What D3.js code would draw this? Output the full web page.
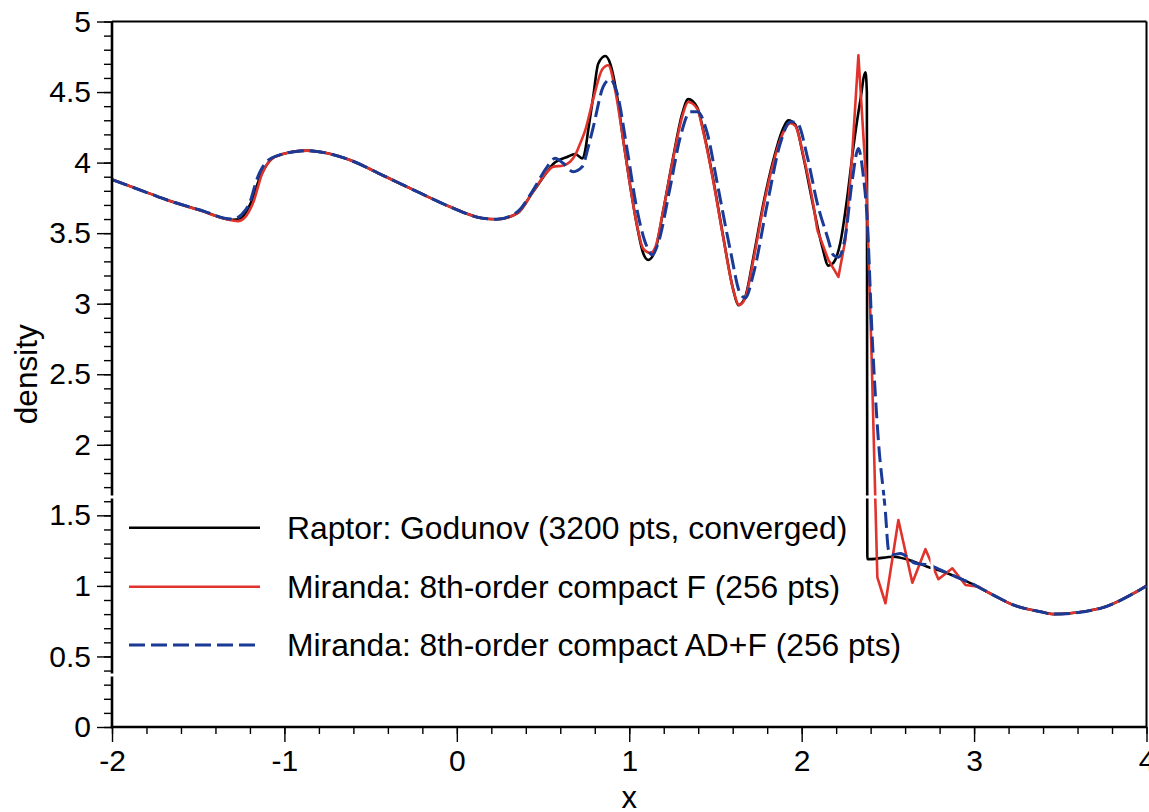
<!DOCTYPE html>
<html>
<head>
<meta charset="utf-8">
<script src="https://cdn.jsdelivr.net/npm/d3@7"></script>
<style>
    body { margin: 0; background: #fff; }
    svg { display: block; font-family: "Liberation Sans", Arial, sans-serif; }
</style>
</head>
<body>
<svg id="chart" width="1149" height="812"></svg>
<script>
// tick labels
var xTicks = [-2, -1, 0, 1, 2, 3, 4];
var yTicks = [0, 0.5, 1, 1.5, 2, 2.5, 3, 3.5, 4, 4.5, 5];

// legend names
var seriesNames = [
    "Raptor: Godunov (3200 pts, converged)",
    "Miranda: 8th-order compact F (256 pts)",
    "Miranda: 8th-order compact AD+F (256 pts)"
];

// values, [x, density]
var raptorGodunov = [
    [-2.0, 3.88], [-1.78, 3.78], [-1.68, 3.735], [-1.49, 3.664], [-1.30, 3.595],
    [-1.26, 3.60], [-1.20, 3.70], [-1.14, 3.90], [-1.08, 4.02], [-1.025, 4.055],
    [-0.87, 4.085], [-0.75, 4.066], [-0.62, 4.018], [-0.43, 3.91], [-0.23, 3.794],
    [-0.04, 3.687], [0.15, 3.605], [0.23, 3.598], [0.35, 3.64], [0.44, 3.79],
    [0.524, 3.935], [0.559, 3.99], [0.64, 4.04], [0.687, 4.061], [0.727, 4.03],
    [0.745, 4.09], [0.762, 4.23], [0.791, 4.467], [0.820, 4.70], [0.861, 4.755],
    [0.890, 4.70], [0.930, 4.467], [0.965, 4.16], [1.006, 3.83], [1.046, 3.546],
    [1.081, 3.357], [1.110, 3.31], [1.151, 3.38], [1.197, 3.66], [1.255, 4.04],
    [1.308, 4.35], [1.342, 4.45], [1.395, 4.39], [1.429, 4.23], [1.487, 3.88],
    [1.545, 3.475], [1.603, 3.10], [1.632, 2.99], [1.673, 3.05], [1.720, 3.33],
    [1.778, 3.71], [1.836, 4.02], [1.888, 4.23], [1.923, 4.30], [1.963, 4.27],
    [2.010, 4.04], [2.068, 3.687], [2.120, 3.40], [2.155, 3.27], [2.184, 3.29],
    [2.224, 3.43], [2.265, 3.76], [2.300, 4.11], [2.340, 4.44], [2.370, 4.64],
    [2.378, 4.5], [2.381, 1.19], [2.398, 1.19], [2.532, 1.207], [2.631, 1.18],
    [2.729, 1.136], [2.845, 1.09], [2.979, 1.02], [3.112, 0.935], [3.228, 0.865],
    [3.385, 0.817], [3.46, 0.80], [3.733, 0.841], [3.925, 0.947], [4.0, 1.0]
];

// F run: smooth part, then the sharp post-shock wiggles
var mirandaF = [
    [-2.0, 3.88], [-1.78, 3.78], [-1.68, 3.735], [-1.49, 3.66], [-1.30, 3.59],
    [-1.27, 3.585], [-1.23, 3.61], [-1.18, 3.72], [-1.13, 3.92], [-1.08, 4.02],
    [-1.025, 4.055], [-0.87, 4.085], [-0.75, 4.066], [-0.62, 4.018], [-0.43, 3.91],
    [-0.23, 3.794], [-0.04, 3.687], [0.15, 3.605], [0.23, 3.598], [0.35, 3.64],
    [0.44, 3.79], [0.524, 3.935], [0.559, 3.97], [0.617, 3.98], [0.657, 4.006],
    [0.687, 4.054], [0.716, 4.137], [0.745, 4.23], [0.791, 4.45], [0.843, 4.66],
    [0.878, 4.69], [0.919, 4.51], [0.965, 4.16], [1.006, 3.83], [1.046, 3.55],
    [1.081, 3.39], [1.122, 3.36], [1.151, 3.40], [1.197, 3.66], [1.255, 4.03],
    [1.308, 4.33], [1.342, 4.43], [1.395, 4.38], [1.429, 4.22], [1.487, 3.87],
    [1.545, 3.47], [1.603, 3.10], [1.638, 2.99], [1.673, 3.04], [1.720, 3.31],
    [1.778, 3.69], [1.836, 4.0], [1.888, 4.2], [1.934, 4.28], [1.963, 4.26],
    [2.010, 4.05], [2.068, 3.70], [2.091, 3.52]
];
var mirandaFShock = [
    [2.091, 3.52], [2.155, 3.31], [2.213, 3.19], [2.253, 3.45], [2.29, 4.0],
    [2.329, 4.76], [2.375, 3.855], [2.404, 2.7], [2.439, 1.06], [2.486, 0.877],
    [2.561, 1.467], [2.642, 1.023], [2.718, 1.26], [2.793, 1.047], [2.874, 1.125],
    [2.950, 1.006], [3.025, 0.994], [3.07, 0.962]
];
var mirandaFTail = [
    [3.07, 0.962], [3.112, 0.935], [3.228, 0.865], [3.385, 0.817], [3.46, 0.80],
    [3.733, 0.841], [3.925, 0.947], [4.0, 1.0]
];

var mirandaADF = [
    [-2.0, 3.88], [-1.78, 3.78], [-1.68, 3.735], [-1.49, 3.664], [-1.30, 3.60],
    [-1.25, 3.63], [-1.20, 3.72], [-1.16, 3.88], [-1.10, 4.01], [-1.025, 4.055],
    [-0.87, 4.085], [-0.75, 4.066], [-0.62, 4.018], [-0.43, 3.91], [-0.23, 3.794],
    [-0.04, 3.687], [0.15, 3.605], [0.23, 3.598], [0.35, 3.65], [0.44, 3.80],
    [0.524, 3.97], [0.57, 4.03], [0.617, 3.995], [0.675, 3.935], [0.727, 3.97],
    [0.762, 4.11], [0.791, 4.25], [0.849, 4.538], [0.890, 4.59], [0.930, 4.49],
    [0.988, 4.09], [1.046, 3.66], [1.104, 3.40], [1.134, 3.345], [1.168, 3.43],
    [1.238, 3.83], [1.296, 4.18], [1.354, 4.36], [1.395, 4.36], [1.452, 4.21],
    [1.510, 3.855], [1.586, 3.38], [1.644, 3.07], [1.673, 3.04], [1.720, 3.21],
    [1.801, 3.71], [1.876, 4.137], [1.934, 4.29], [1.975, 4.28], [2.033, 4.04],
    [2.091, 3.71], [2.149, 3.475], [2.184, 3.345], [2.213, 3.33], [2.253, 3.475],
    [2.294, 3.88], [2.329, 4.10], [2.358, 3.90], [2.378, 3.64], [2.41, 2.74],
    [2.445, 2.03], [2.486, 1.52], [2.503, 1.26], [2.525, 1.22], [2.573, 1.23],
    [2.660, 1.16], [2.735, 1.148], [2.845, 1.09], [2.979, 1.02], [3.112, 0.935],
    [3.228, 0.865], [3.385, 0.817], [3.46, 0.80], [3.733, 0.841], [3.925, 0.947],
    [4.0, 1.0]
];

var svg = d3.select("#chart"),
    margin = {top: 21.5, right: 2.5, bottom: 85, left: 112},
    width = +svg.attr("width") - margin.left - margin.right,
    height = +svg.attr("height") - margin.top - margin.bottom;

var x = d3.scaleLinear().domain([-2, 4]).range([0, width]),
    y = d3.scaleLinear().domain([0, 5]).range([height, 0]);

var g = svg.append("g")
    .attr("transform", "translate(" + margin.left + "," + margin.top + ")");

// minor ticks
g.append("g")
    .attr("class", "axis axis--x-minor")
    .attr("transform", "translate(0," + height + ")")
    .call(d3.axisBottom(x).tickValues(d3.range(-2, 4.001, 0.2)).tickSize(7).tickFormat(""));
g.append("g")
    .attr("class", "axis axis--y-minor")
    .call(d3.axisLeft(y).tickValues(d3.range(0, 5.001, 0.1)).tickSize(8).tickFormat(""));

// major ticks + labels
g.append("g")
    .attr("class", "axis axis--x")
    .attr("transform", "translate(0," + height + ")")
    .call(d3.axisBottom(x).tickValues(xTicks).tickSize(15).tickPadding(8)
        .tickFormat(function (d) { return String(d); }));
g.append("g")
    .attr("class", "axis axis--y")
    .call(d3.axisLeft(y).tickValues(yTicks).tickSize(15).tickPadding(6)
        .tickFormat(function (d) { return String(d); }));

g.selectAll(".axis .domain").remove();
g.selectAll(".axis line").attr("stroke", "#000").attr("stroke-width", 1.4);
g.selectAll(".axis text").attr("font-size", 30).attr("fill", "#000")
    .attr("font-family", "Liberation Sans, Arial, sans-serif");

// frame
g.append("line").attr("x1", 0).attr("x2", width).attr("y1", 0).attr("y2", 0)
    .attr("stroke", "#000").attr("stroke-width", 1.8);
g.append("line").attr("x1", width).attr("x2", width).attr("y1", 0).attr("y2", height)
    .attr("stroke", "#000").attr("stroke-width", 2);

// curves
var smooth = d3.line()
    .x(function (d) { return x(d[0]); })
    .y(function (d) { return y(d[1]); })
    .curve(d3.curveMonotoneX);
var straight = d3.line()
    .x(function (d) { return x(d[0]); })
    .y(function (d) { return y(d[1]); });

var series = [
    {parts: [[raptorGodunov, smooth]], color: "#000000", w: 2.6, dash: null},
    {parts: [[mirandaF, smooth], [mirandaFShock, straight], [mirandaFTail, smooth]],
        color: "#e0332c", w: 2.6, dash: null},
    {parts: [[mirandaADF, smooth]], color: "#1a3a96", w: 3, dash: "16,6"}
];

series.forEach(function (s) {
    s.parts.forEach(function (p) {
        g.append("path")
            .datum(p[0])
            .attr("fill", "none")
            .attr("stroke", s.color)
            .attr("stroke-width", s.w)
            .attr("stroke-linejoin", "round")
            .attr("stroke-dasharray", s.dash)
            .attr("d", p[1]);
    });
});

// axis lines on top
g.append("line").attr("x1", 0).attr("x2", 0).attr("y1", 0).attr("y2", height + 1.2)
    .attr("stroke", "#000").attr("stroke-width", 2.6);
g.append("line").attr("x1", -1.2).attr("x2", width).attr("y1", height).attr("y2", height)
    .attr("stroke", "#000").attr("stroke-width", 2.4);

// legend: white frame cuts through what is below it
var legend = svg.append("g").attr("class", "legend");
legend.append("path")
    .attr("d", "M106,497H932V675H106")
    .attr("fill", "none")
    .attr("stroke", "#fff")
    .attr("stroke-width", 3);

var legendY = [527.7, 586.7, 645];
series.forEach(function (s, i) {
    legend.append("line")
        .attr("x1", 129).attr("x2", 260)
        .attr("y1", legendY[i]).attr("y2", legendY[i])
        .attr("stroke", s.color)
        .attr("stroke-width", s.w)
        .attr("stroke-dasharray", s.dash);
    legend.append("text")
        .attr("x", 287)
        .attr("y", legendY[i])
        .attr("dy", "0.36em")
        .attr("font-size", 31.8)
        .text(seriesNames[i]);
});

// axis titles
svg.append("text")
    .attr("x", margin.left + width / 2)
    .attr("y", 808)
    .attr("text-anchor", "middle")
    .attr("font-size", 31)
    .text("x");
svg.append("text")
    .attr("transform", "translate(37," + (margin.top + height / 2) + ") rotate(-90)")
    .attr("text-anchor", "middle")
    .attr("font-size", 31.5)
    .text("density");
</script>
</body>
</html>
